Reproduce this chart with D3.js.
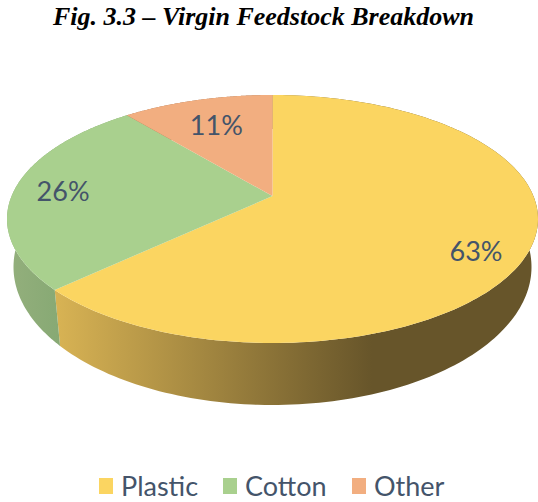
<!DOCTYPE html><html><meta charset="UTF-8">
<title>Fig. 3.3</title>
<style>
  body { margin: 0; background: #fff; overflow: hidden; }
  .pct { font: 27px Lato, sans-serif; fill: #44546A; text-anchor: middle; dominant-baseline: central; }
  .leg { font: 27px Lato, sans-serif; fill: #44546A; }
  .title { font: italic bold 26px "Liberation Serif", serif; fill: #000; text-anchor: middle; }
</style>
<script src="https://cdn.jsdelivr.net/npm/d3@7"></script>
<svg width="538" height="502"></svg>
<script>

var categories = ["Plastic", "Cotton", "Other"];
var shares = [63, 26, 11];
var colors = ["#FBD561", "#A9D08E", "#F2AE80"];
var titleText = "Fig. 3.3 \u2013 Virgin Feedstock Breakdown";

var svg = d3.select("svg");

// perspective disc: the pie centre sits above the middle of the drawn ellipse
var tilt = 0.185;
var topRim = {cx: 272.5, cy: 219, rx: 265.5, ry: 124};
var baseRim = {cx: 272.5, cy: 267, rx: 259, ry: 138};

function project(rim, angle, r) {
  var u = r * Math.sin(angle), v = -r * Math.cos(angle);
  var w = 1 - tilt * v;
  return [rim.cx + rim.rx * u * Math.sqrt(1 - tilt * tilt) / w,
          rim.cy + rim.ry * (v - tilt) / w];
}

var arcs = d3.pie().sort(null)(shares);
var line = d3.line();

// sides, shaded from left to right
var defs = svg.append("defs");
function sideGradient(id, x1, x2, stops) {
  var g = defs.append("linearGradient").attr("id", id)
    .attr("gradientUnits", "userSpaceOnUse")
    .attr("x1", x1).attr("x2", x2).attr("y1", 0).attr("y2", 0);
  stops.forEach(function(s) { g.append("stop").attr("offset", s[0]).attr("stop-color", s[1]); });
}
sideGradient("side0", 56, 372, [[0, "#D8B354"], [1, "#67552A"]]);
sideGradient("side1", 10, 60, [[0, "#93AF7C"], [1, "#87A974"]]);
sideGradient("side2", 130, 272, [[0, "#A0704F"], [1, "#A0704F"]]);

function angles(d) {
  return d3.range(0, 181).map(function(i) {
    return d.startAngle + (d.endAngle - d.startAngle) * i / 180;
  });
}

svg.selectAll("path.side").data(arcs).enter().append("path")
  .attr("class", "side")
  .attr("fill", function(d, i) { return "url(#side" + i + ")"; })
  .attr("d", function(d) {
    var a = angles(d);
    var pts = a.map(function(t) { return project(topRim, t, 1); })
      .concat(a.slice().reverse().map(function(t) { return project(baseRim, t, 1); }));
    return line(pts) + "Z";
  });

// top face
svg.selectAll("path.face").data(arcs).enter().append("path")
  .attr("class", "face")
  .attr("fill", function(d, i) { return colors[i]; })
  .attr("d", function(d) {
    var pts = angles(d).map(function(t) { return project(topRim, t, 1); });
    pts.push(project(topRim, 0, 0));
    return line(pts) + "Z";
  });

// percent labels
var labelPlace = [{r: 0.8, dx: 0, dy: 14}, {r: 0.8, dx: -3, dy: 0}, {r: 0.7, dx: -1, dy: -1}];
svg.selectAll("text.pct").data(arcs).enter().append("text")
  .attr("class", "pct")
  .attr("transform", function(d, i) {
    var p = project(topRim, (d.startAngle + d.endAngle) / 2, labelPlace[i].r);
    return "translate(" + (p[0] + labelPlace[i].dx) + "," + (p[1] + labelPlace[i].dy) + ")";
  })
  .text(function(d) { return d.data + "%"; });

svg.append("text").attr("class", "title").attr("x", 263.5).attr("y", 25).text(titleText);

// legend
var legendX = d3.scaleOrdinal().domain(categories).range([99, 223, 352]);
var legend = svg.selectAll("g.legend").data(categories).enter().append("g")
  .attr("class", "legend")
  .attr("transform", function(d) { return "translate(" + legendX(d) + ",478)"; });
legend.append("rect").attr("width", 14).attr("height", 16)
  .attr("fill", function(d, i) { return colors[i]; });
legend.append("text").attr("class", "leg").attr("x", 22).attr("y", 18).text(function(d) { return d; });

</script>
</html>
